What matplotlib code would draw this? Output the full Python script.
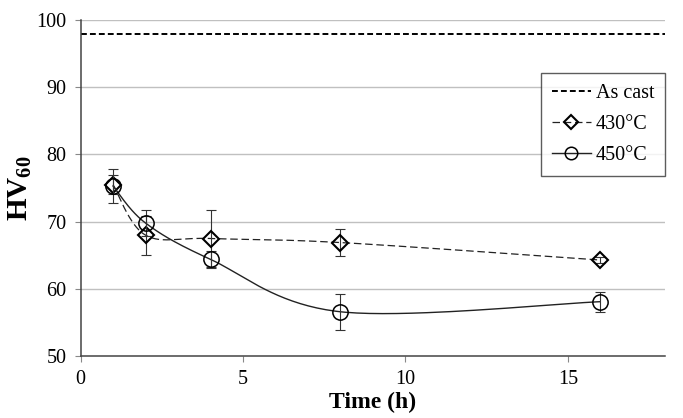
import numpy as np
import matplotlib.pyplot as plt

# hardness HV60 vs ageing time
time_h = [1, 2, 4, 8, 16]
hv_430 = [75.5, 68.0, 67.5, 66.9, 64.3]
err_430 = [1.4, 2.9, 4.3, 2.0, 0.5]
hv_450 = [75.3, 69.8, 64.4, 56.6, 58.1]
err_450 = [2.5, 1.9, 1.3, 2.7, 1.5]
as_cast = 97.9


def smooth(x, y, n=40):
    # Excel style smoothed line (Catmull-Rom through the points)
    x = np.asarray(x, float)
    y = np.asarray(y, float)
    px = np.concatenate([[x[0]], x, [x[-1]]])
    py = np.concatenate([[y[0]], y, [y[-1]]])
    xs, ys = [], []
    t = np.linspace(0, 1, n)
    for i in range(1, len(px) - 2):
        p0, p1, p2, p3 = [(px[j], py[j]) for j in range(i - 1, i + 3)]
        c1 = (p1[0] + (p2[0] - p0[0]) / 6, p1[1] + (p2[1] - p0[1]) / 6)
        c2 = (p2[0] - (p3[0] - p1[0]) / 6, p2[1] - (p3[1] - p1[1]) / 6)
        for k in range(2):
            a, b, c, d = p1[k], c1[k], c2[k], p2[k]
            v = (1 - t)**3 * a + 3 * (1 - t)**2 * t * b + 3 * (1 - t) * t**2 * c + t**3 * d
            (xs if k == 0 else ys).append(v)
    return np.concatenate(xs), np.concatenate(ys)


plt.rcParams['font.family'] = ['Liberation Serif', 'DejaVu Serif']
plt.rcParams['mathtext.fontset'] = 'custom'
plt.rcParams['mathtext.rm'] = 'Liberation Serif'
plt.rcParams['mathtext.bf'] = 'Liberation Serif:bold'

fig = plt.figure(figsize=(6.83, 4.18), dpi=100)
ax = fig.add_axes([0.118, 0.148, 0.856, 0.804])

for v in [60, 70, 80, 90, 100]:
    ax.axhline(v, color='#c0c0c0', lw=1.0, zorder=0)

ax.axhline(as_cast, color='black', ls=(0, (3, 1.6)), lw=1.4, label='As cast')

sx, sy = smooth(time_h, hv_430)
ax.plot(sx, sy, color='#222222', ls=(0, (6, 3)), lw=0.9)
ax.errorbar(time_h, hv_430, yerr=err_430, fmt='none', ecolor='#333333',
            elinewidth=0.8, capsize=3.5, capthick=0.8)
ax.plot(time_h, hv_430, ls='none', marker='D', ms=8, mfc='none', mec='black', mew=1.5)
ax.plot([], [], color='#222222', ls=(0, (6, 3)), lw=0.9, marker='D', ms=7,
        mfc='none', mec='black', mew=1.5, label='430°C')

sx, sy = smooth(time_h, hv_450)
ax.plot(sx, sy, color='#222222', lw=1.0)
ax.errorbar(time_h, hv_450, yerr=err_450, fmt='none', ecolor='#333333',
            elinewidth=0.8, capsize=3.5, capthick=0.8)
ax.plot(time_h, hv_450, ls='none', marker='o', ms=11, mfc='none', mec='black', mew=1.1)
ax.plot([], [], color='#222222', lw=1.0, marker='o', ms=9, mfc='none',
        mec='black', mew=1.1, label='450°C')

ax.set_xlim(0, 18)
ax.set_ylim(50, 100)
ax.set_xticks([0, 5, 10, 15])
ax.set_yticks([50, 60, 70, 80, 90, 100])
ax.tick_params(labelsize=14.5, length=4, color='#888888', direction='out', pad=6)
for s in ['top', 'right']:
    ax.spines[s].set_visible(False)
for s in ['left', 'bottom']:
    ax.spines[s].set_color('#444444')
    ax.spines[s].set_linewidth(1.1)

ax.set_xlabel('Time (h)', fontsize=17, fontweight='bold', labelpad=2)
ax.set_ylabel(r'$\mathbf{HV_{60}}$', fontsize=21, labelpad=2)

leg = ax.legend(loc='upper right', bbox_to_anchor=(1.0, 0.843), borderaxespad=0,
                fontsize=14.5, frameon=True, fancybox=False, edgecolor='#333333',
                handlelength=1.9, handletextpad=0.25, labelspacing=0.6,
                borderpad=0.55)
leg.get_frame().set_linewidth(1.0)

fig.savefig('out.png', dpi=100)
